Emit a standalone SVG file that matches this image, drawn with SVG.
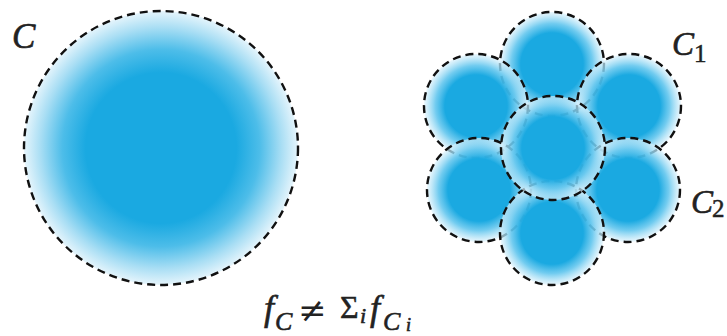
<svg xmlns="http://www.w3.org/2000/svg" width="727" height="336" viewBox="0 0 727 336">
<defs>
<radialGradient id="gBig" cx="0.5" cy="0.5" r="0.5">
<stop offset="0" stop-color="#1aa9e1"/>
<stop offset="0.55" stop-color="#1aa9e1"/>
<stop offset="0.72" stop-color="#4dbde9"/>
<stop offset="0.88" stop-color="#a9def4"/>
<stop offset="1" stop-color="#e6f5fc"/>
</radialGradient>
<radialGradient id="gSmall" cx="0.5" cy="0.5" r="0.5">
<stop offset="0" stop-color="#1aa9e1" stop-opacity="1"/>
<stop offset="0.6" stop-color="#1aa9e1" stop-opacity="1"/>
<stop offset="0.78" stop-color="#62c6ee" stop-opacity="0.9"/>
<stop offset="1" stop-color="#dff3fc" stop-opacity="0.65"/>
</radialGradient>
</defs>
<style>
.big{fill:url(#gBig);stroke:#111;stroke-width:2.4;stroke-dasharray:8 5}
.sm{fill:url(#gSmall);stroke:#111;stroke-width:2.4;stroke-dasharray:8 5}
.lbl{font-family:"Liberation Serif","DejaVu Serif",serif;font-style:italic;fill:#222;stroke:#222;stroke-width:0.6}
.up{font-family:"Liberation Serif","DejaVu Serif",serif;fill:#222;stroke:#222;stroke-width:0.5}
.sym{font-family:"DejaVu Serif",serif;fill:#222}
</style>
<g id="bigC">
<circle class="big" cx="161" cy="148" r="137"/>
<text class="lbl" x="12" y="48" font-size="35">C</text>
</g>
<g id="small">
<g id="c-top"><circle class="sm" cx="552" cy="64" r="52"/></g>
<g id="c-upleft"><circle class="sm" cx="476" cy="106" r="52"/></g>
<g id="c-upright"><circle class="sm" cx="629" cy="106" r="52"/></g>
<g id="c-lowleft"><circle class="sm" cx="479" cy="190" r="52"/></g>
<g id="c-lowright"><circle class="sm" cx="628" cy="190" r="52"/></g>
<g id="c-bottom"><circle class="sm" cx="552" cy="233" r="52"/></g>
<g id="c-center"><circle class="sm" cx="553" cy="148" r="52"/></g>
</g>
<g id="labels">
<text class="lbl" x="672" y="55" font-size="33">C</text>
<text class="up" x="694" y="62" font-size="25">1</text>
<text class="lbl" x="691" y="213" font-size="33">C</text>
<text class="up" x="712" y="217" font-size="25">2</text>
</g>
<g id="formula">
<text class="lbl" x="264" y="320" font-size="36">f</text>
<text class="lbl" x="275" y="330" font-size="26">C</text>
<text class="sym" x="298" y="322" font-size="34">≠</text>
<text class="up" x="340" y="318" font-size="32">Σ</text>
<text class="lbl" x="360" y="323" font-size="22">i</text>
<text class="lbl" x="370" y="320" font-size="36">f</text>
<text class="lbl" x="383" y="330" font-size="26">C</text>
<text class="lbl" x="406" y="331" font-size="18">i</text>
</g>
</svg>
